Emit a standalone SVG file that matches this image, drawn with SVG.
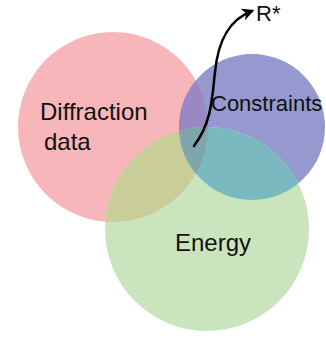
<svg xmlns="http://www.w3.org/2000/svg" width="326" height="338" viewBox="0 0 326 338">
  <style>
    .lbl { font-family: "Liberation Sans", Arial, sans-serif; font-size: 24px; fill: #111; }
    .arrow { fill: none; stroke: #000; stroke-width: 2.5; stroke-linecap: round; }
  </style>
  <defs>
    <clipPath id="cpPink"><circle cx="113" cy="127" r="95"/></clipPath>
    <clipPath id="cpBlue"><circle cx="252" cy="127" r="73"/></clipPath>
    <marker id="ah" viewBox="0 0 10 10" refX="8" refY="5" markerWidth="5" markerHeight="5" orient="auto" markerUnits="strokeWidth">
      <path d="M0,0 L10,5 L0,10 L3,5 Z" fill="#000"/>
    </marker>
  </defs>
  <rect width="326" height="338" fill="#fff"/>
  <g id="diffraction">
    <circle cx="113" cy="127" r="95" fill="#f7b7ba"/>
  </g>
  <g id="constraints">
    <circle cx="252" cy="127" r="73" fill="#9599cf"/>
  </g>
  <g id="energy">
    <circle cx="207" cy="229" r="102" fill="#cae4bd"/>
  </g>
  <g id="overlaps">
    <circle cx="252" cy="127" r="73" fill="#9a88c4" clip-path="url(#cpPink)"/>
    <circle cx="207" cy="229" r="102" fill="#c9cd9a" clip-path="url(#cpPink)"/>
    <circle cx="207" cy="229" r="102" fill="#7bb9c0" clip-path="url(#cpBlue)"/>
    <g clip-path="url(#cpPink)">
      <circle cx="207" cy="229" r="102" fill="#80a6ac" clip-path="url(#cpBlue)"/>
    </g>
  </g>
  <g id="labels">
    <text class="lbl" x="40" y="120">Diffraction</text>
    <text class="lbl" x="44" y="150">data</text>
    <text class="lbl" x="211" y="111" style="font-size:22px">Constraints</text>
    <text class="lbl" x="175" y="251">Energy</text>
  </g>
  <g id="connectors">
    <path class="arrow" d="M194,146 C212,122 212,98 215,72 C218,42 228,20 252,11" marker-end="url(#ah)"/>
  </g>
  <g id="result">
    <text class="lbl" x="256" y="21" style="font-size:22px">R*</text>
  </g>
</svg>
